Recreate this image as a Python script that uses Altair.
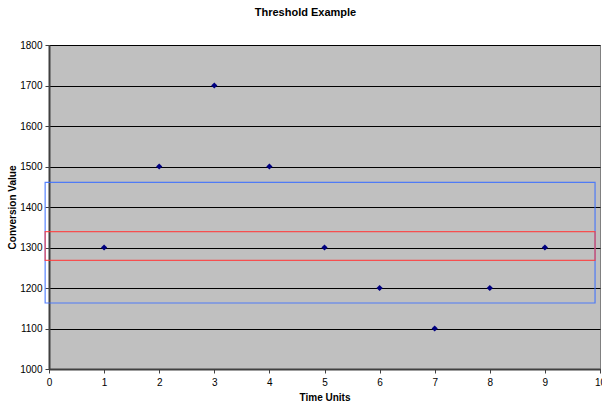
import altair as alt
import pandas as pd

time_units = [1, 2, 3, 4, 5, 6, 7, 8, 9]
conversion = [1300, 1500, 1700, 1500, 1300, 1200, 1100, 1200, 1300]

box_names = ["outer", "inner"]
box_x0 = [-0.07, -0.07]
box_x1 = [9.91, 9.91]
box_y0 = [1163, 1268]
box_y1 = [1461, 1339]
box_colors = ["#3B6EFF", "#FF3B3B"]

pts = pd.DataFrame({"t": time_units, "v": conversion})
boxes = pd.DataFrame({"name": box_names, "x0": box_x0, "x1": box_x1,
                      "y0": box_y0, "y1": box_y1, "c": box_colors})

FONT = "Liberation Sans"

xscale = alt.Scale(domain=[0, 10], nice=False, zero=False)
yscale = alt.Scale(domain=[1000, 1800], nice=False, zero=False)

points = alt.Chart(pts).mark_point(
    shape="diamond", filled=True, color="#000080", size=38, opacity=1
).encode(
    x=alt.X("t:Q", scale=xscale, title="Time Units",
            axis=alt.Axis(values=list(range(0, 11)), grid=False, tickSize=4,
                          format="d",
                          labelPadding=4, titlePadding=5, domainColor="#404040",
                          domainWidth=2, tickColor="#404040",
                          labelFont=FONT, labelFontSize=10, labelColor="#000",
                          titleFont=FONT, titleFontSize=10, titleFontWeight="bold",
                          titleColor="#000", labelFlush=False)),
    y=alt.Y("v:Q", scale=yscale, title="Conversion Value",
            axis=alt.Axis(values=list(range(1000, 1900, 100)), grid=True,
                          format="d",
                          gridColor="#000000", gridWidth=1, gridOpacity=1,
                          tickSize=4, labelPadding=3,
                          titleX=-37, titleY=162, titleAngle=270,
                          titleAlign="center", titleBaseline="middle",
                          domainColor="#404040", domainWidth=2, tickColor="#404040",
                          labelFont=FONT, labelFontSize=10, labelColor="#000",
                          titleFont=FONT, titleFontSize=10, titleFontWeight="bold",
                          titleColor="#000")),
)

rects = alt.Chart(boxes).mark_rect(fill=None, strokeWidth=1.2, strokeOpacity=0.85,
                                   clip=False).encode(
    x=alt.X("x0:Q", scale=xscale),
    x2="x1:Q",
    y=alt.Y("y0:Q", scale=yscale),
    y2="y1:Q",
    stroke=alt.Color("c:N", scale=None),
)

chart = alt.layer(points, rects).properties(
    width=551,
    height=324,
    title=alt.TitleParams("Threshold Example", font=FONT, fontSize=11,
                          fontWeight="bold", color="#000", anchor="middle",
                          dx=-19, offset=22),
    autosize=alt.AutoSizeParams(type="none"),
    padding={"left": 49, "top": 45, "right": 2, "bottom": 33},
    background="#ffffff",
).configure_view(
    fill="#C0C0C0", stroke="#808080", strokeWidth=1
)

chart.save("out.html", embed_options={"renderer": "svg", "actions": False})
